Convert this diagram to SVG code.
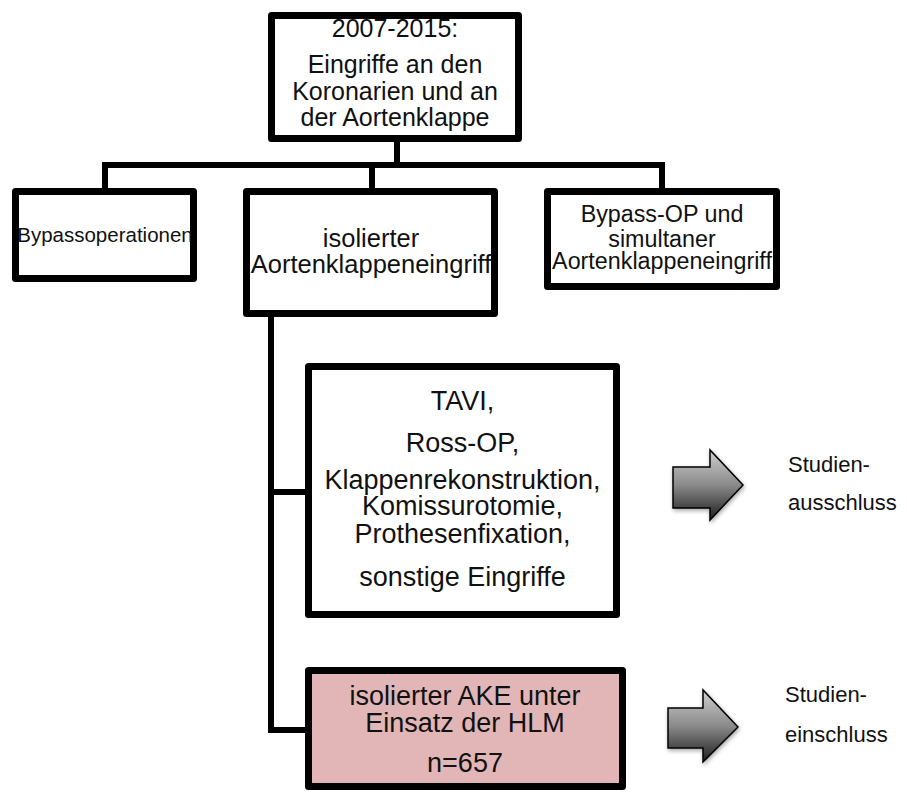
<svg xmlns="http://www.w3.org/2000/svg" width="907" height="792" viewBox="0 0 907 792">
<style>
.box{fill:#fff;stroke:#000;stroke-width:7;stroke-linejoin:round}
.pink{fill:#e2b6b7}
.conn{fill:none;stroke:#000;stroke-width:6;stroke-linejoin:miter;stroke-linecap:butt}
text{font-family:"Liberation Sans",Arial,sans-serif;fill:#111;text-anchor:middle}
.side{text-anchor:start;font-size:22px}
.arrow{stroke:#000;stroke-width:1.5;stroke-linejoin:miter;fill:url(#ag);filter:url(#sh)}
</style>
<defs>
<linearGradient id="ag" x1="0" y1="0" x2="0" y2="1">
<stop offset="0" stop-color="#cfcfcf"/>
<stop offset="0.5" stop-color="#8a8a8a"/>
<stop offset="1" stop-color="#1e1e1e"/>
</linearGradient>
<filter id="sh" x="-20%" y="-20%" width="150%" height="150%">
<feDropShadow dx="1" dy="2" stdDeviation="2" flood-color="#000" flood-opacity="0.35"/>
</filter>
</defs>
<g id="connectors">
<path class="conn" d="M397,142 V165"/>
<path class="conn" d="M105,188 V165 H662 V188"/>
<path class="conn" d="M372,165 V188"/>
<path class="conn" d="M271,317 V730 H305"/>
<path class="conn" d="M271,492 H305"/>
</g>
<g id="top">
<rect class="box" x="271.5" y="15.5" width="247" height="123"/>
<text font-size="25" x="395" y="37">2007-2015:</text>
<text font-size="25" x="395" y="73">Eingriffe an den</text>
<text font-size="25" x="395" y="100">Koronarien und an</text>
<text font-size="25" x="395" y="126">der Aortenklappe</text>
</g>
<g id="bypass">
<rect class="box" x="15.5" y="191.5" width="178" height="87"/>
<text font-size="20.5" x="105" y="242">Bypassoperationen</text>
</g>
<g id="isoliert">
<rect class="box" x="246.5" y="191.5" width="248" height="122"/>
<text font-size="25.5" x="371" y="247">isolierter</text>
<text font-size="25.5" x="371" y="273">Aortenklappeneingriff</text>
</g>
<g id="bypass-simultan">
<rect class="box" x="547.5" y="191.5" width="229" height="95"/>
<text font-size="23.3" x="662" y="222">Bypass-OP und</text>
<text font-size="23.3" x="662" y="247">simultaner</text>
<text font-size="23.3" x="662" y="269">Aortenklappeneingriff</text>
</g>
<g id="tavi">
<rect class="box" x="308.5" y="366.5" width="308" height="248"/>
<text font-size="27" x="462.5" y="410">TAVI,</text>
<text font-size="27" x="462.5" y="452">Ross-OP,</text>
<text font-size="27" x="462.5" y="489">Klappenrekonstruktion,</text>
<text font-size="27" x="462.5" y="515">Komissurotomie,</text>
<text font-size="27" x="462.5" y="543">Prothesenfixation,</text>
<text font-size="27" x="462.5" y="586">sonstige Eingriffe</text>
</g>
<g id="ake">
<rect class="box pink" x="308.5" y="670.5" width="314" height="116"/>
<text font-size="27" x="465" y="705">isolierter AKE unter</text>
<text font-size="27" x="465" y="732">Einsatz der HLM</text>
<text font-size="27" x="465" y="772">n=657</text>
</g>
<g id="ausschluss">
<path class="arrow" d="M673,467 H710 V450 L743,485 L710,520 V508 H673 Z"/>
<text class="side" x="788" y="472">Studien-</text>
<text class="side" x="788" y="510">ausschluss</text>
</g>
<g id="einschluss">
<path class="arrow" d="M668,708 H703 V690 L738,727 L703,762 V748 H668 Z"/>
<text class="side" x="785" y="702">Studien-</text>
<text class="side" x="785" y="742">einschluss</text>
</g>
</svg>
